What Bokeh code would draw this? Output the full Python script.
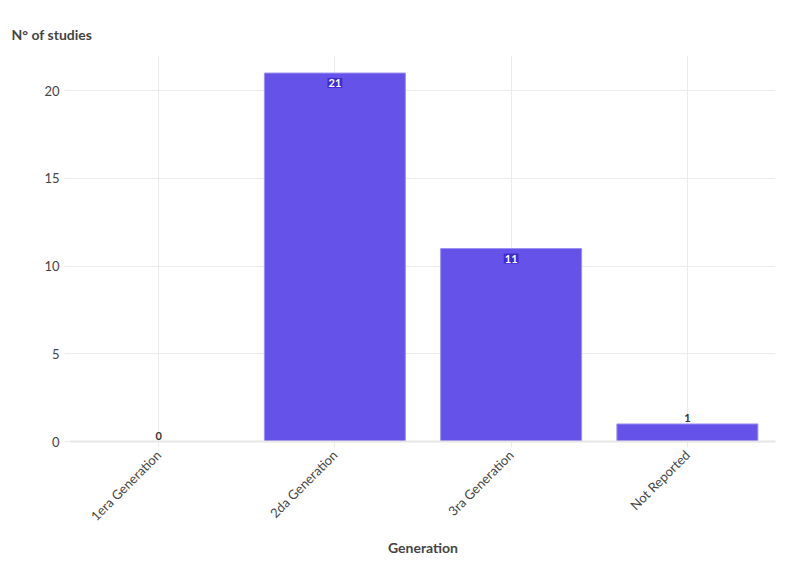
from bokeh.plotting import figure
from bokeh.models import ColumnDataSource, FixedTicker, Range1d
from bokeh.embed import file_html
from bokeh.resources import INLINE
from bokeh.core.properties import value
import math

categories = ["1era Generation", "2da Generation", "3ra Generation", "Not Reported"]
counts = [0, 21, 11, 1]
y_ticks = [0, 5, 10, 15, 20]

FONT = "Lato"
BAR = "#6552E9"

p = figure(x_range=categories, y_range=Range1d(0, 22), width=780, height=559,
           output_backend="svg", toolbar_location=None,
           min_border_left=70, min_border_right=5, min_border_top=55, min_border_bottom=110)

src = ColumnDataSource(dict(cat=categories, val=counts))
p.vbar(x="cat", top="val", width=0.8, source=src, fill_color=BAR, line_color="#9c90f0",
       line_width=1, fill_alpha=1)

inside = [v >= 5 for v in counts]
in_src = ColumnDataSource(dict(cat=[c for c, i in zip(categories, inside) if i],
                               val=[v for v, i in zip(counts, inside) if i],
                               lab=[str(v) for v, i in zip(counts, inside) if i]))
out_src = ColumnDataSource(dict(cat=[c for c, i in zip(categories, inside) if not i],
                                val=[v for v, i in zip(counts, inside) if not i],
                                lab=[str(v) for v, i in zip(counts, inside) if not i]))
p.text(x="cat", y="val", text="lab", source=in_src, text_font=value(FONT),
       text_font_size="11px", text_font_style="bold", text_color="white",
       text_align="center", text_baseline="top", y_offset=5,
       background_fill_color="#3b27d6", background_fill_alpha=0.9,
       padding=1)
p.text(x="cat", y="val", text="lab", source=out_src, text_font=value(FONT),
       text_font_size="11px", text_font_style="bold", text_color="#333333",
       text_align="center", text_baseline="bottom", y_offset=-2)

p.outline_line_color = None
p.xgrid.grid_line_color = "#ebebeb"
p.ygrid.grid_line_color = "#ebebeb"
p.yaxis.ticker = FixedTicker(ticks=y_ticks)
p.yaxis.axis_line_color = None
p.yaxis.major_tick_line_color = "#ebebeb"
p.yaxis.major_tick_out = 6
p.yaxis.major_tick_in = 0
p.yaxis.minor_tick_line_color = None
p.yaxis.major_label_text_font = FONT
p.yaxis.major_label_text_font_size = "13px"
p.yaxis.major_label_text_color = "#444444"

p.xaxis.axis_line_color = "#e6e6e6"
p.xaxis.axis_line_width = 2
p.xaxis.major_tick_line_color = "#ebebeb"
p.xaxis.major_tick_out = 6
p.xaxis.major_tick_in = 0
p.xaxis.major_label_orientation = math.pi / 4
p.xaxis.major_label_text_font = FONT
p.xaxis.major_label_text_font_size = "13px"
p.xaxis.major_label_text_color = "#444444"
p.xaxis.axis_label = "Generation"
p.xaxis.axis_label_text_font = FONT
p.xaxis.axis_label_text_font_size = "14px"
p.xaxis.axis_label_text_font_style = "bold"
p.xaxis.axis_label_text_color = "#444444"
p.xaxis.axis_label_standoff = 7

p.title.text = "N° of studies"
p.title.align = "left"
p.title.text_font = FONT
p.title.text_font_size = "14px"
p.title.text_font_style = "bold"
p.title.text_color = "#444444"
p.title.offset = -59
p.title.standoff = 25

open("out.html", "w").write(file_html(p, INLINE))
